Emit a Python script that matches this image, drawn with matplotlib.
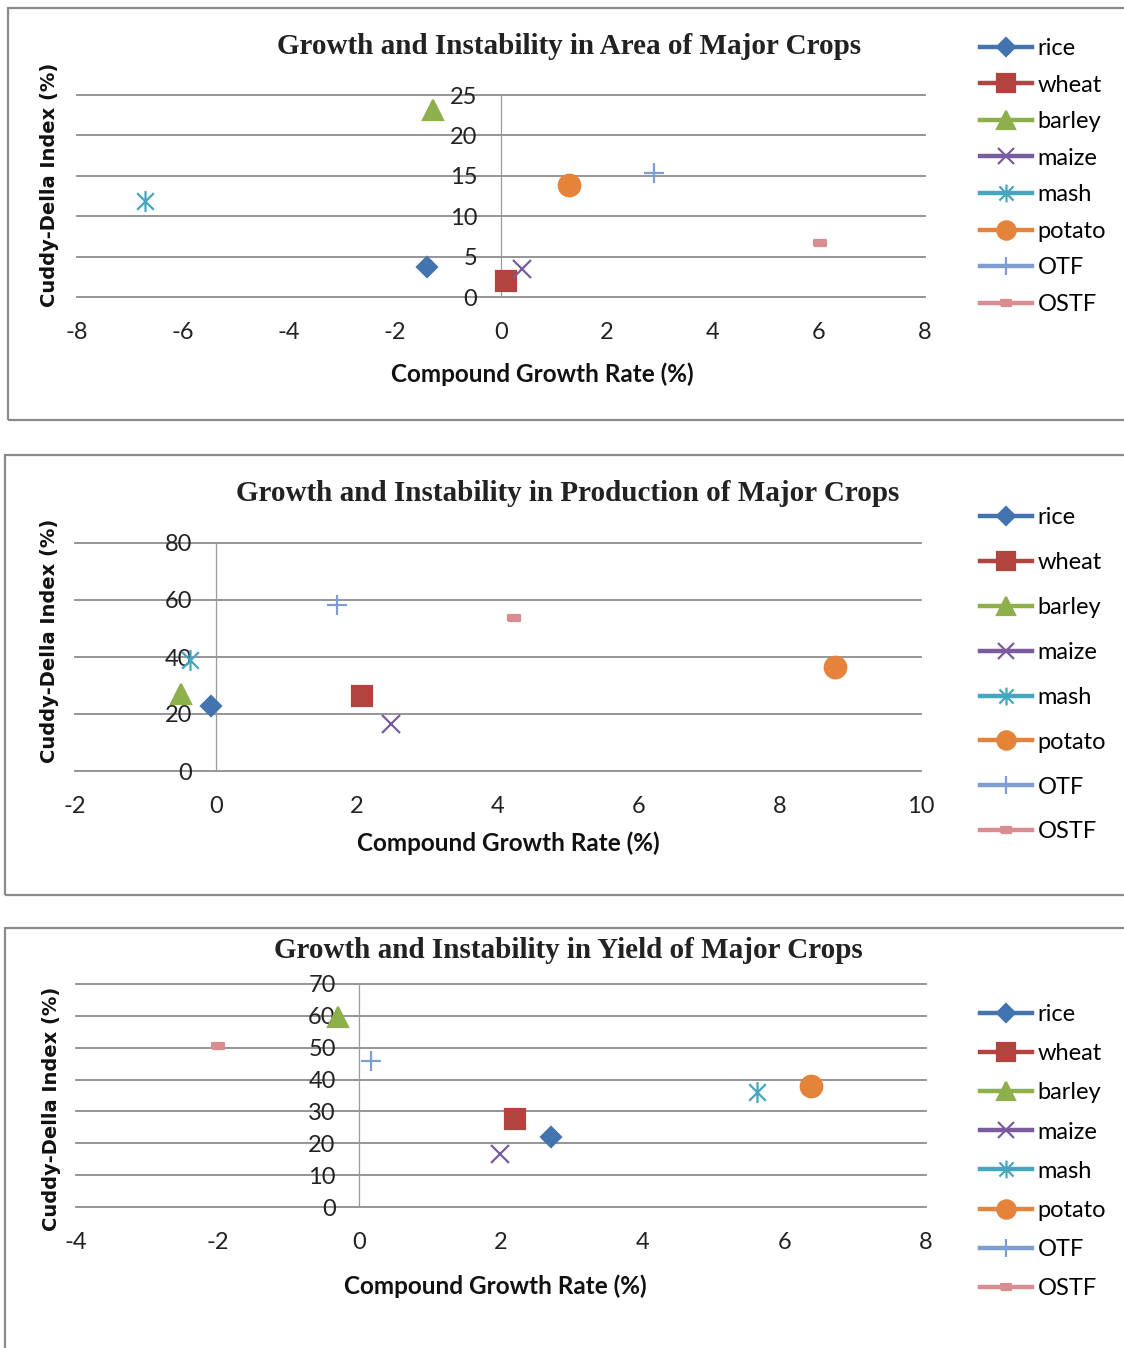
import matplotlib
matplotlib.use("Agg")
import matplotlib.pyplot as plt
from matplotlib.path import Path
from matplotlib.patches import Rectangle

plt.rcParams["axes.unicode_minus"] = False

crops = ["rice", "wheat", "barley", "maize", "mash", "potato", "OTF", "OSTF"]

# compound growth rate (%) and Cuddy-Della index (%)
area_cgr = [-1.40, 0.09, -1.28, 0.40, -6.72, 1.28, 2.89, 6.02]
area_cdi = [3.7, 2.0, 23.1, 3.5, 11.9, 13.9, 15.3, 6.7]

prod_cgr = [-0.07, 2.07, -0.50, 2.48, -0.37, 8.78, 1.72, 4.23]
prod_cdi = [22.8, 26.3, 27.0, 16.5, 39.0, 36.5, 58.2, 53.7]

yield_cgr = [2.70, 2.20, -0.30, 1.98, 5.61, 6.38, 0.16, -1.99]
yield_cdi = [22.0, 27.6, 59.6, 16.6, 36.1, 38.0, 45.8, 50.5]

colors = ["#4474B0", "#B4423F", "#8DB04C", "#7A5C9E", "#45A6BF",
          "#E6833A", "#7E9ED3", "#D98D90"]

asterisk = Path([(0, -1), (0, 1), (-0.8, -0.8), (0.8, 0.8), (-0.8, 0.8), (0.8, -0.8)],
                [Path.MOVETO, Path.LINETO, Path.MOVETO, Path.LINETO, Path.MOVETO, Path.LINETO])
dash = [(-1, -0.5), (1, -0.5), (1, 0.5), (-1, 0.5), (-1, -0.5)]
markers = ["D", "s", "^", "x", asterisk, "o", "+", dash]
msizes = [10.5, 15, 15, 13, 15, 15.5, 15, 8.5]

W, H = 1124, 1348
fig = plt.figure(figsize=(W / 100, H / 100), dpi=100)

sans = "Lato"
grid_c = "#8c8c8c"

panels = [
    dict(title="Growth and Instability in Area of Major Crops", x=area_cgr, y=area_cdi,
         xlim=(-8, 8), ylim=(0, 25), ystep=5, ax=(77, 925, 95, 297),
         box=(8, 8, 1140, 420), title_xy=(569, 47), xl_xy=(542, 374), yl_xy=(50, 185),
         leg_top=38, spacing=0.66),
    dict(title="Growth and Instability in Production of Major Crops", x=prod_cgr, y=prod_cdi,
         xlim=(-2, 10), ylim=(0, 80), ystep=20, ax=(75, 921, 543, 771),
         box=(5, 455, 1140, 895), title_xy=(568, 494), xl_xy=(508, 843), yl_xy=(50, 641),
         leg_top=507.5, spacing=1.01),
    dict(title="Growth and Instability in Yield of Major Crops", x=yield_cgr, y=yield_cdi,
         xlim=(-4, 8), ylim=(0, 70), ystep=10, ax=(76, 926, 984, 1207),
         box=(5, 928, 1140, 1360), title_xy=(568, 951), xl_xy=(495, 1286), yl_xy=(52, 1109),
         leg_top=1004, spacing=0.77),
]

for p in panels:
    bx0, by0, bx1, by1 = p["box"]
    fig.patches.append(Rectangle((bx0 / W, 1 - by1 / H), (bx1 - bx0) / W, (by1 - by0) / H,
                                 transform=fig.transFigure, fill=False,
                                 edgecolor="#8a8a8a", lw=1.6, zorder=0))

    l, r, t, b = p["ax"]
    ax = fig.add_axes([l / W, 1 - b / H, (r - l) / W, (b - t) / H])
    ax.set_xlim(*p["xlim"])
    ax.set_ylim(*p["ylim"])
    ax.set_axisbelow(True)

    yt = list(range(p["ylim"][0], p["ylim"][1] + 1, p["ystep"]))
    for v in yt:
        ax.axhline(v, color=grid_c, lw=1.3, zorder=0.5, clip_on=False)

    for s in ["top", "right", "bottom"]:
        ax.spines[s].set_visible(False)
    ax.spines["left"].set_position(("data", 0))
    ax.spines["left"].set_color("#9a9a9a")
    ax.spines["left"].set_linewidth(0.9)

    ax.set_yticks(yt)
    ax.set_xticks(range(p["xlim"][0], p["xlim"][1] + 1, 2))
    ax.tick_params(axis="y", length=0, pad=17, labelsize=17, labelcolor="#222222")
    ax.tick_params(axis="x", length=0, pad=18, labelsize=17, labelcolor="#222222")
    for lab in ax.get_xticklabels() + ax.get_yticklabels():
        lab.set_fontfamily(sans)

    for i, name in enumerate(crops):
        ax.plot([p["x"][i]], [p["y"][i]], linestyle="-", lw=3.2, color=colors[i],
                marker=markers[i], ms=msizes[i], mec=colors[i], mfc=colors[i],
                mew=1.6, label=name, clip_on=False, zorder=3)

    fig.text(p["title_xy"][0] / W, 1 - p["title_xy"][1] / H, p["title"],
             ha="center", va="center", fontsize=21, fontweight="bold",
             family="Liberation Serif", color="#222222")
    fig.text(p["xl_xy"][0] / W, 1 - p["xl_xy"][1] / H, "Compound Growth Rate (%)",
             ha="center", va="center", fontsize=17.5, fontweight="bold", family=sans,
             color="#111111")
    fig.text(p["yl_xy"][0] / W, 1 - p["yl_xy"][1] / H, "Cuddy-Della Index (%)",
             ha="center", va="center", rotation=90, fontsize=14, fontweight="bold",
             family="DejaVu Sans", color="#111111")

    ax.legend(loc="upper left", bbox_to_anchor=(980 / W, 1 - p["leg_top"] / H),
              bbox_transform=fig.transFigure, frameon=False, borderpad=0,
              borderaxespad=0, handlelength=2.2, handletextpad=0.25,
              labelspacing=p["spacing"], markerscale=0.85,
              prop={"family": sans, "size": 17})

fig.savefig("out.png", dpi=100)
